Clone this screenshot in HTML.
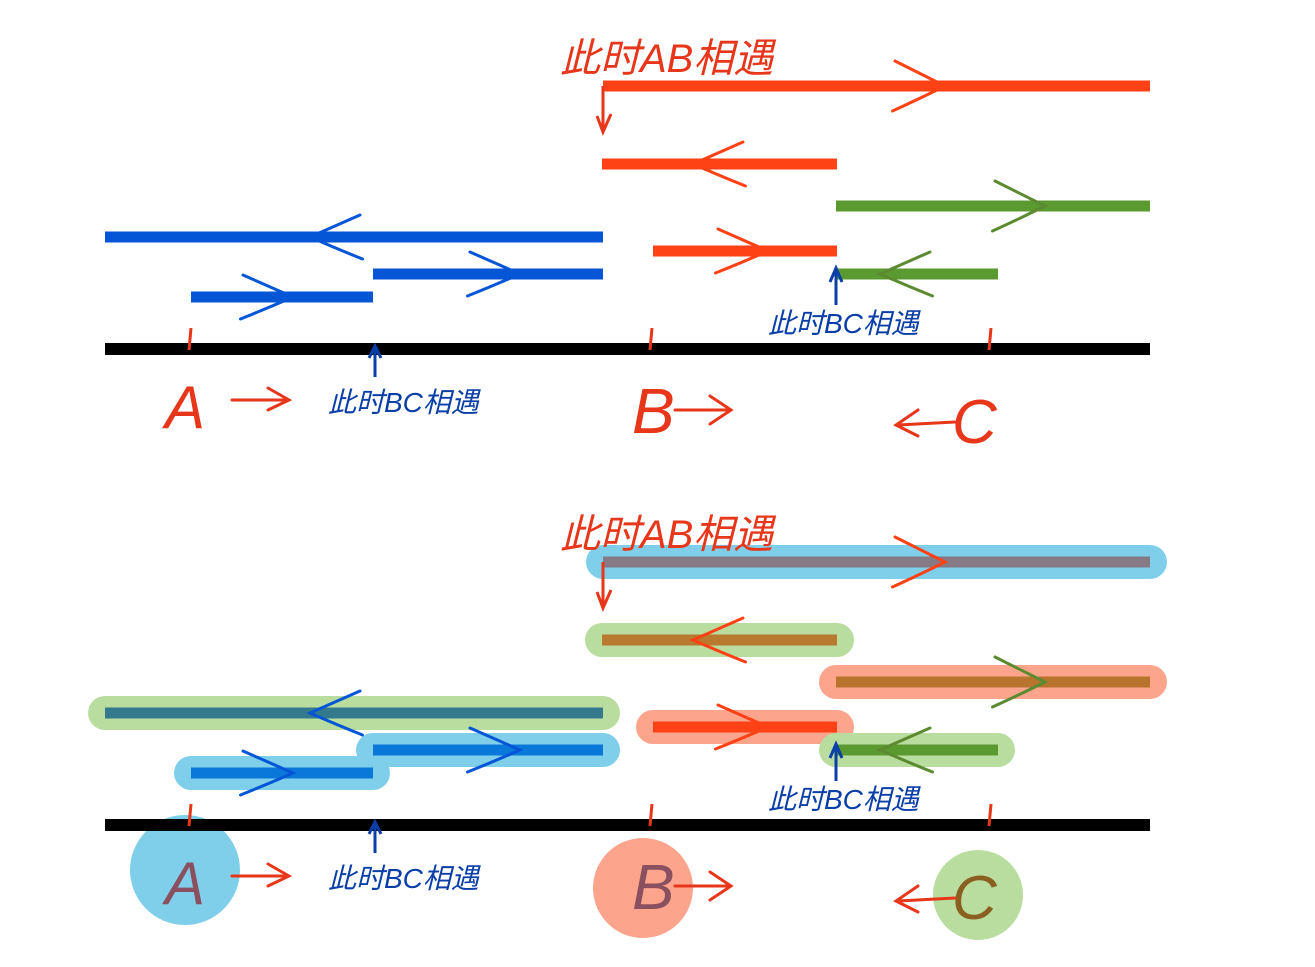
<!DOCTYPE html>
<html><head><meta charset="utf-8"><style>
body{margin:0;background:#fff;width:1315px;height:967px;overflow:hidden}
svg{display:block}
.t{font-family:"Liberation Sans","Noto Sans CJK SC",sans-serif;font-style:italic}
</style></head><body>
<svg id="s" width="1315" height="967"></svg>
<script>
const NS='http://www.w3.org/2000/svg';
const svg=document.getElementById('s');
const segX1=[603,602,836,105,653,191,373,836];
const segX2=[1150,837,1150,603,837,373,603,998];
const segY=[86,164,206,237,251,297,274,274];
const segDir=[1,-1,1,-1,1,1,1,-1];
const segArrow=[945,693,1045,310,768,293,520,880];
const topColors=['#ff4216','#ff4216','#5b9a30','#0456d6','#ff4216','#0456d6','#0456d6','#5b9a30'];
const botColors=['#857a86','#b87a2c','#b8742c','#357a8c','#ff4216','#0a78d8','#0a78d8','#5b9a30'];
const hiColors=['#7fcfea','#b9dc9f','#fca48c','#b9dc9f','#fca48c','#7fcfea','#7fcfea','#b9dc9f'];
const arrowCol=['#ff4216','#ff4216','#5b8a30','#0456d6','#ff4216','#0456d6','#0456d6','#5b8a30'];
function el(tag,attrs,parent){const e=document.createElementNS(NS,tag);for(const k in attrs)e.setAttribute(k,attrs[k]);(parent||svg).appendChild(e);return e;}
function diagram(off,bottom){
  const g=el('g',{});
  
  
  if(bottom){
    [[185,870,55,'#7fcfea'],[643,888,50,'#fca48c'],[978,895,45,'#b9dc9f']].forEach((c,i)=>{
      const e=el('circle',{cx:c[0],cy:c[1],r:c[2],fill:c[3]},g);
      
      
    });
    segY.forEach((y,i)=>{
      const e=el('line',{x1:segX1[i],x2:segX2[i],y1:y+off,y2:y+off,stroke:hiColors[i],'stroke-width':34,'stroke-linecap':'round'},g);
      
      
    });
  }
  const b=el('line',{x1:105,x2:1150,y1:349+off,y2:349+off,stroke:'#000','stroke-width':12},g);
  
  
  [190,651,990].forEach((x,i)=>{
    const e=el('line',{x1:x+1,x2:x-1,y1:328+off,y2:350+off,stroke:'#e8361a','stroke-width':3},g);
    
    
  });
  segY.forEach((y,i)=>{
    const yy=y+off;
    const e=el('line',{x1:segX1[i],x2:segX2[i],y1:yy,y2:yy,stroke:bottom?botColors[i]:topColors[i],'stroke-width':11},g);
    
    
    const ax=segArrow[i],d=segDir[i],w=50*d,h=i==0||i==2?25:22;
    const a=el('path',{d:`M${ax-w},${yy-h} Q${ax-w*0.3},${yy-h*0.3} ${ax},${yy} Q${ax-w*0.5},${yy+h*0.5} ${ax-w*1.05},${yy+h}`,fill:'none',stroke:arrowCol[i],'stroke-width':3,'stroke-linecap':'round'},g);
    
    
  });
  const p=el('path',{d:`M603,${86+off} L603,${130+off} M597,${116+off} L603,${132+off} L611,${114+off}`,fill:'none',stroke:'#e8361a','stroke-width':3},g);
  
  
  const p2=el('path',{d:`M836,${305+off} L836,${270+off} M830,${282+off} L836,${268+off} L842,${282+off}`,fill:'none',stroke:'#0b3fa8','stroke-width':3},g);
  
  
  const p3=el('path',{d:`M375,${377+off} L375,${347+off} M369,${358+off} L375,${346+off} L381,${358+off}`,fill:'none',stroke:'#0b3fa8','stroke-width':3},g);
  
  
  const texts=[
    ['此时AB相遇',560,72+off,'#e8361a',40,'ab-meet-label'],
    ['此时BC相遇',768,333+off,'#0b3fa8',28,'bc-meet-label-right'],
    ['此时BC相遇',328,412+off,'#0b3fa8',28,'bc-meet-label-left'],
    ['A',165,428+off,bottom?'#8a5060':'#e8361a',60,'point-a-label'],
    ['B',632,433+off,bottom?'#8a5060':'#e8361a',64,'point-b-label'],
    ['C',952,443+off,bottom?'#8a6020':'#e8361a',62,'point-c-label']
  ];
  texts.forEach(t=>{
    const e=el('text',{x:t[1],y:t[2],fill:t[3],'font-size':t[4],class:'t'},g);
    e.textContent=t[0];
    
    
  });
  [[`M232,${400+off} L288,${400+off} M268,${388+off} L289,${400+off} L268,${410+off}`,'a-motion-arrow'],
   [`M675,${410+off} L730,${410+off} M710,${396+off} L731,${410+off} L710,${424+off}`,'b-motion-arrow'],
   [`M955,${422+off} L898,${425+off} M918,${410+off} L896,${425+off} L918,${436+off}`,'c-motion-arrow']].forEach(m=>{
    const e=el('path',{d:m[0],fill:'none',stroke:'#e8361a','stroke-width':3,'stroke-linecap':'round'},g);
    
    
  });
}
diagram(0,false);
diagram(476,true);
</script>
</body></html>
